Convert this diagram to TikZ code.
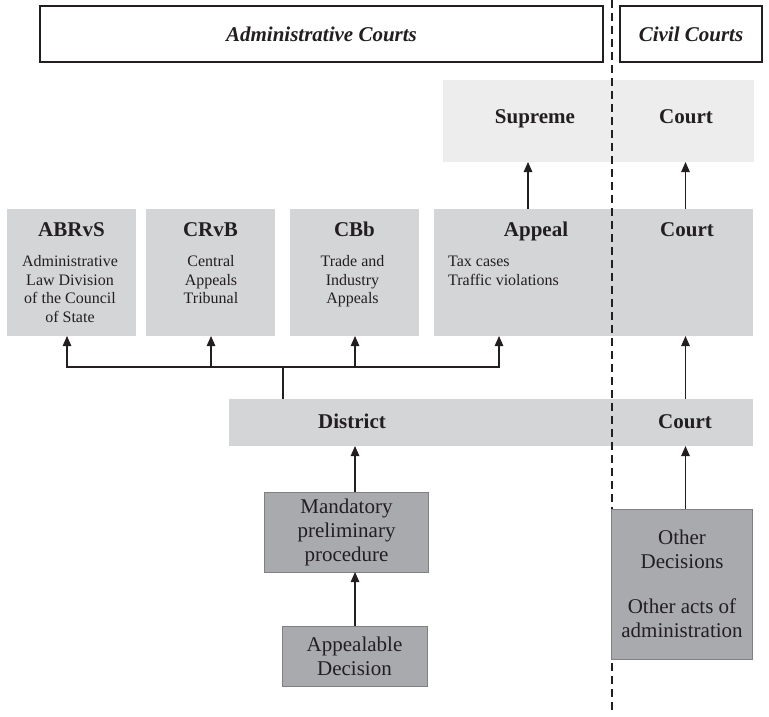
\documentclass[tikz,border=0pt]{standalone}
\usepackage{fontspec}
\setmainfont{Liberation Serif}
\usetikzlibrary{arrows.meta}
\definecolor{lightband}{HTML}{EDEDED}
\definecolor{midband}{HTML}{D4D5D7}
\definecolor{darkbox}{HTML}{A9AAAD}
\definecolor{darkedge}{HTML}{808083}
\definecolor{ink}{HTML}{231F20}
\begin{document}
\begin{tikzpicture}[x=1pt,y=-1pt,
  fillbox/.style={fill=#1, draw=none, inner sep=0pt, outer sep=0pt},
  hdr/.style={draw=ink, line width=1.1pt, fill=white, inner sep=0pt, outer sep=0pt,
    font=\fontsize{21}{24}\selectfont\bfseries\itshape, text=ink},
  ttl/.style={anchor=base, inner sep=0pt, font=\fontsize{21}{24}\selectfont\bfseries, text=ink},
  desc/.style={anchor=base, inner sep=0pt, align=center, font=\fontsize{16}{18.5}\selectfont, text=ink},
  dbox/.style={fill=darkbox, draw=darkedge, line width=1pt, inner sep=0pt, outer sep=0pt,
    align=center, font=\fontsize{21}{24}\selectfont, text=ink},
  conn/.style={draw=ink, line width=1.2pt},
  arr/.style={conn, -{Triangle[length=10pt,width=8.5pt]}},
  dashline/.style={draw=ink, line width=1.1pt, dash pattern=on 8pt off 5pt}
]
\useasboundingbox (0,0) rectangle (769,717);

% headers
\node[hdr, minimum width=563pt, minimum height=56pt] (hadm) at (321.5,34) {Administrative Courts};
\node[hdr, minimum width=142pt, minimum height=56pt] (hciv) at (691,34) {Civil Courts};

% top band
\node[fillbox=lightband, minimum width=169pt, minimum height=82pt] (supA) at (527.5,121) {};
\node[fillbox=lightband, minimum width=142pt, minimum height=82pt] (supC) at (683,121) {};
\node[ttl] (tsup) at (535,123) {Supreme};
\node[ttl] (tsupc) at (686,123) {Court};

% second row
\node[fillbox=midband, minimum width=129pt, minimum height=127pt] (abr) at (71.5,272.5) {};
\node[fillbox=midband, minimum width=129pt, minimum height=127pt] (crvb) at (210.5,272.5) {};
\node[fillbox=midband, minimum width=129pt, minimum height=127pt] (cbb) at (354.5,272.5) {};
\node[fillbox=midband, minimum width=178pt, minimum height=127pt] (appA) at (523,272.5) {};
\node[fillbox=midband, minimum width=141pt, minimum height=127pt] (appC) at (682.5,272.5) {};
\node[ttl] (tabr) at (71.5,236) {ABRvS};
\node[ttl] (tcrvb) at (210.5,236) {CRvB};
\node[ttl] (tcbb) at (354.5,236) {CBb};
\node[ttl] (tapp) at (536,236) {Appeal};
\node[ttl] (tappc) at (687,236) {Court};
\node[desc] (dabr) at (70,322.2) {Administrative\\Law Division\\of the Council\\of State};
\node[desc] (dcrvb) at (211,303.7) {Central\\Appeals\\Tribunal};
\node[desc] (dcbb) at (352.5,303.7) {Trade and\\Industry\\Appeals};
\node[desc, anchor=base west, align=left] (dapp) at (448,285.2) {Tax cases\\Traffic violations};

% district band
\node[fillbox=midband, minimum width=383pt, minimum height=47pt] (distA) at (420.5,422.5) {};
\node[fillbox=midband, minimum width=141pt, minimum height=47pt] (distC) at (682.5,422.5) {};
\node[ttl] (tdist) at (352,428.3) {District};
\node[ttl] (tdistc) at (685,428.3) {Court};

% dashed divider
\draw[dashline] (612,0) -- (612,714);

% dark boxes
\node[dbox, minimum width=164pt, minimum height=80pt] (mand) at (346.5,532) {Mandatory\\preliminary\\procedure};
\node[dbox, minimum width=145pt, minimum height=60pt] (appl) at (354.5,656) {Appealable\\Decision};
\node[dbox, minimum width=140.5pt, minimum height=150pt] (other) at (682,584) {Other\\Decisions\\[21pt]Other acts of\\administration};

% connectors
\coordinate (cc) at (685.5,0);
\coordinate (cs) at (528,0);
\coordinate (cm) at (355,0);
\coordinate (j) at (283,367);
\coordinate (ka) at (67,0);
\coordinate (kb) at (211,0);
\coordinate (kc) at (355,0);
\coordinate (kd) at (499,0);

\draw[arr] (appA.north -| cs) -- (supA.south -| cs);
\draw[arr] (appC.north -| cc) -- (supC.south -| cc);
\draw[arr] (distC.north -| cc) -- (appC.south -| cc);
\draw[arr] (other.north -| cc) -- (distC.south -| cc);

\draw[conn] (j) -- (j |- distA.north);
\draw[arr] (j) -| (abr.south -| ka);
\draw[arr] (j) -| (crvb.south -| kb);
\draw[arr] (j) -| (cbb.south -| kc);
\draw[arr] (j) -| (appA.south -| kd);

\draw[arr] (mand.north -| cm) -- (distA.south -| cm);
\draw[arr] (appl.north -| cm) -- (mand.south -| cm);
\end{tikzpicture}
\end{document}
